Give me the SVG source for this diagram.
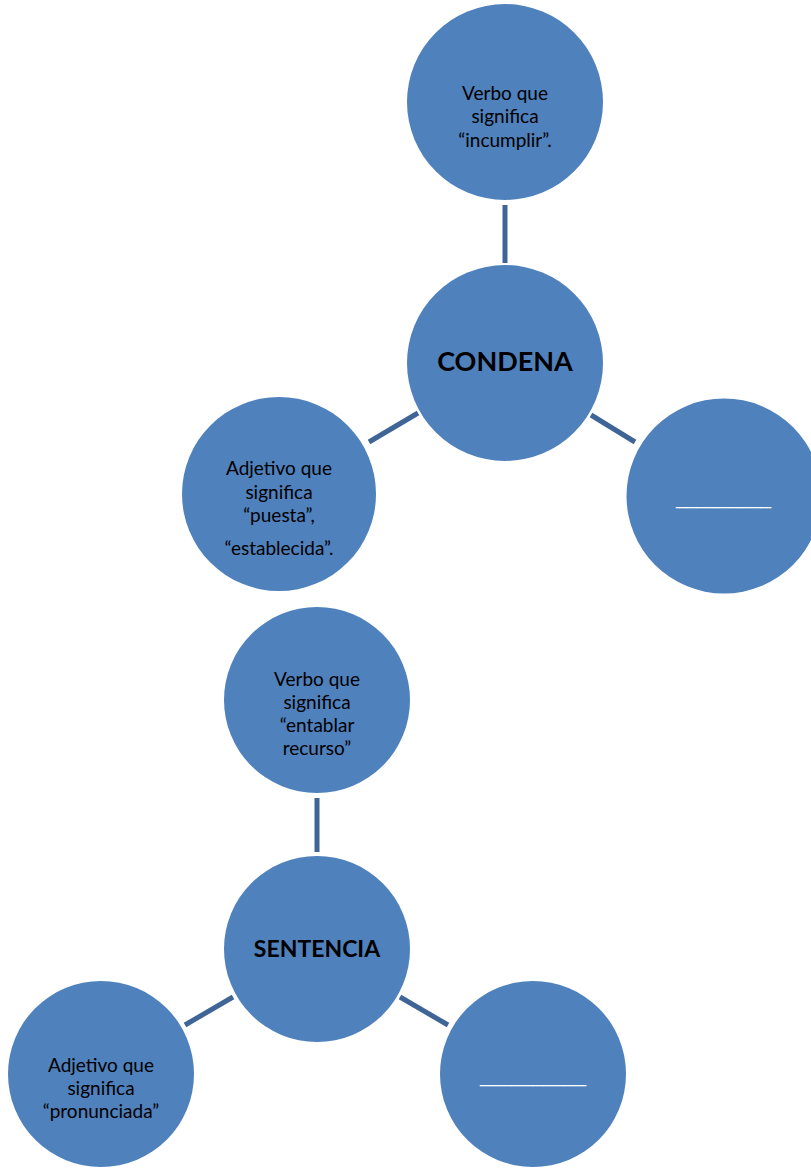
<svg xmlns="http://www.w3.org/2000/svg" width="811" height="1168" viewBox="0 0 811 1168">
  <style>
    .node { fill: #4F81BD; }
    .link { stroke: #3F6597; stroke-width: 5; fill: none; }
    .txt { font-family: Lato, "Open Sans", "Liberation Sans", sans-serif; font-size: 19px; fill: #000; text-anchor: middle; }
    .hub { font-family: Lato, "Open Sans", "Liberation Sans", sans-serif; font-weight: bold; fill: #000; text-anchor: middle; }
    .blank { font-family: "Liberation Sans", sans-serif; font-size: 17px; fill: #FFFFFF; }
  </style>
  <rect width="811" height="1168" fill="#FFFFFF"/>

  <!-- connectors -->
  <g id="connectors">
    <line class="link" x1="505" y1="205" x2="505" y2="263"/>
    <line class="link" x1="369" y1="442" x2="418" y2="413"/>
    <line class="link" x1="591" y1="415" x2="635" y2="442"/>
    <line class="link" x1="317" y1="798" x2="317" y2="852"/>
    <line class="link" x1="185" y1="1025" x2="233" y2="997"/>
    <line class="link" x1="400" y1="997" x2="448" y2="1025"/>
  </g>

  <!-- first cluster: CONDENA -->
  <g id="condena-verbo">
    <circle class="node" cx="505" cy="102" r="98"/>
    <text class="txt" x="505" y="100">Verbo que</text>
    <text class="txt" x="505" y="123">significa</text>
    <text class="txt" x="505" y="147">“incumplir”.</text>
  </g>
  <g id="condena">
    <circle class="node" cx="505" cy="363" r="98"/>
    <text class="hub" x="505" y="371" font-size="27">CONDENA</text>
  </g>
  <g id="condena-adjetivo">
    <circle class="node" cx="279" cy="494" r="97"/>
    <text class="txt" x="279" y="475">Adjetivo que</text>
    <text class="txt" x="279" y="499">significa</text>
    <text class="txt" x="279" y="522">“puesta”,</text>
    <text class="txt" x="279" y="555">“establecida”.</text>
  </g>
  <g id="condena-blank">
    <circle class="node" cx="724" cy="496" r="97.5"/>
    <text class="blank" x="676" y="505" textLength="95" lengthAdjust="spacingAndGlyphs">_________</text>
  </g>

  <!-- second cluster: SENTENCIA -->
  <g id="sentencia-verbo">
    <circle class="node" cx="317" cy="700" r="93"/>
    <text class="txt" x="317" y="686">Verbo que</text>
    <text class="txt" x="317" y="709">significa</text>
    <text class="txt" x="317" y="732">“entablar</text>
    <text class="txt" x="317" y="755">recurso”</text>
  </g>
  <g id="sentencia">
    <circle class="node" cx="317" cy="949" r="93"/>
    <text class="hub" x="317" y="957" font-size="23">SENTENCIA</text>
  </g>
  <g id="sentencia-adjetivo">
    <circle class="node" cx="101" cy="1074" r="93"/>
    <text class="txt" x="101" y="1072">Adjetivo que</text>
    <text class="txt" x="101" y="1095">significa</text>
    <text class="txt" x="101" y="1118">“pronunciada”</text>
  </g>
  <g id="sentencia-blank">
    <circle class="node" cx="533" cy="1074" r="93"/>
    <text class="blank" x="480" y="1083" textLength="106" lengthAdjust="spacingAndGlyphs">__________</text>
  </g>
</svg>
